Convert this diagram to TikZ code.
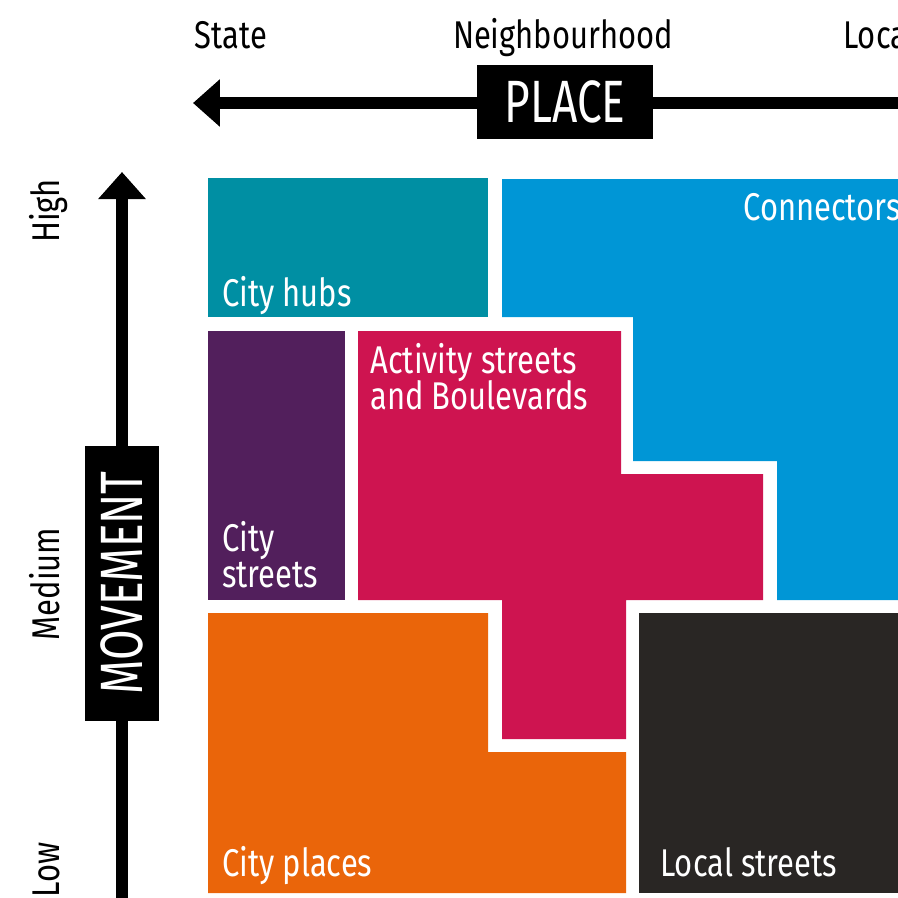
\documentclass[tikz,border=0pt]{standalone}
\usepackage{fontspec}
\setmainfont{Fira Sans}[FakeStretch=0.8]
\newfontfamily\axisfont{Fira Sans}[FakeStretch=0.74]
\newcommand\lblfont{\fontsize{22}{20}\selectfont\lineskiplimit-20pt\relax}
\usetikzlibrary{arrows.meta}
\definecolor{hubteal}{RGB}{0,143,163}
\definecolor{connblue}{RGB}{0,150,214}
\definecolor{streetpurple}{RGB}{82,31,92}
\definecolor{activered}{RGB}{206,20,80}
\definecolor{placeorange}{RGB}{234,101,10}
\definecolor{localdark}{RGB}{41,38,36}
\tikzset{
  axis/.style={line width=0.24cm,-{Triangle[length=0.54cm,width=0.92cm]}},
  axisbox/.style={fill=black,text=white,inner sep=0pt,font=\axisfont\fontsize{34}{40}\selectfont},
  lbl/.style={inner sep=0pt,font=\lblfont},
  blocklbl/.style={lbl,text=white,anchor=base west,align=left}
}
\begin{document}
\begin{tikzpicture}[x=0.02cm,y=-0.02cm,line join=round]
	\useasboundingbox (0,0) rectangle (898,897);
	\clip (0,0) rectangle (898,897);
	%blocks
	\fill[hubteal](208,178)rectangle(488,317);
	\fill[connblue](502,179)--(910,179)--(910,600)--(777,600)--(777,461)--(633,461)--(633,317)--(502,317)--cycle;
	\fill[streetpurple](208,331)rectangle(345,600);
	\fill[activered](358,331)--(621,331)--(621,474)--(763,474)--(763,600)--(626,600)--(626,739)--(502,739)--(502,600)--(358,600)--cycle;
	\fill[placeorange](208,613)--(488,613)--(488,752)--(626,752)--(626,893)--(208,893)--cycle;
	\fill[localdark](639,613)rectangle(910,893);
	\node[blocklbl](hubs) at (222,306) {City hubs};
	\node[blocklbl](conn) at (743,220) {Connectors};
	\node[blocklbl](cstreets) at (222,587) {City\\streets};
	\node[blocklbl](activity) at (370,409) {Activity streets\\and Boulevards};
	\node[blocklbl](cplaces) at (222,876) {City places};
	\node[blocklbl](lstreets) at (660,876) {Local streets};
	%axes
	\coordinate (placeEnd) at (920,103);
	\coordinate (placeTip) at (193,103);
	\coordinate (moveEnd) at (122,920);
	\coordinate (moveTip) at (122,172);
	\draw[axis](placeEnd)--(placeTip);
	\draw[axis](moveEnd)--(moveTip);
	\node[axisbox,minimum width=176*0.02cm,minimum height=74*0.02cm](place) at (565,102) {PLACE};
	\node[axisbox,rotate=90,minimum width=275*0.02cm,minimum height=74*0.02cm](movement) at (122,583) {MOVEMENT};
	\foreach \p/\g/\t in {state/231/State,nbhd/563/Neighbourhood}
	\node[lbl,anchor=base](\p) at (\g,48) {\t};
	\node[lbl,anchor=base west](local) at (843,48) {Local};
	\node[lbl,rotate=90,anchor=base](high) at (59,211) {High};
	\node[lbl,rotate=90,anchor=base](medium) at (59,584) {Medium};
	\node[lbl,rotate=90,anchor=base east](low) at (59,842) {Low};
\end{tikzpicture}
\end{document}
